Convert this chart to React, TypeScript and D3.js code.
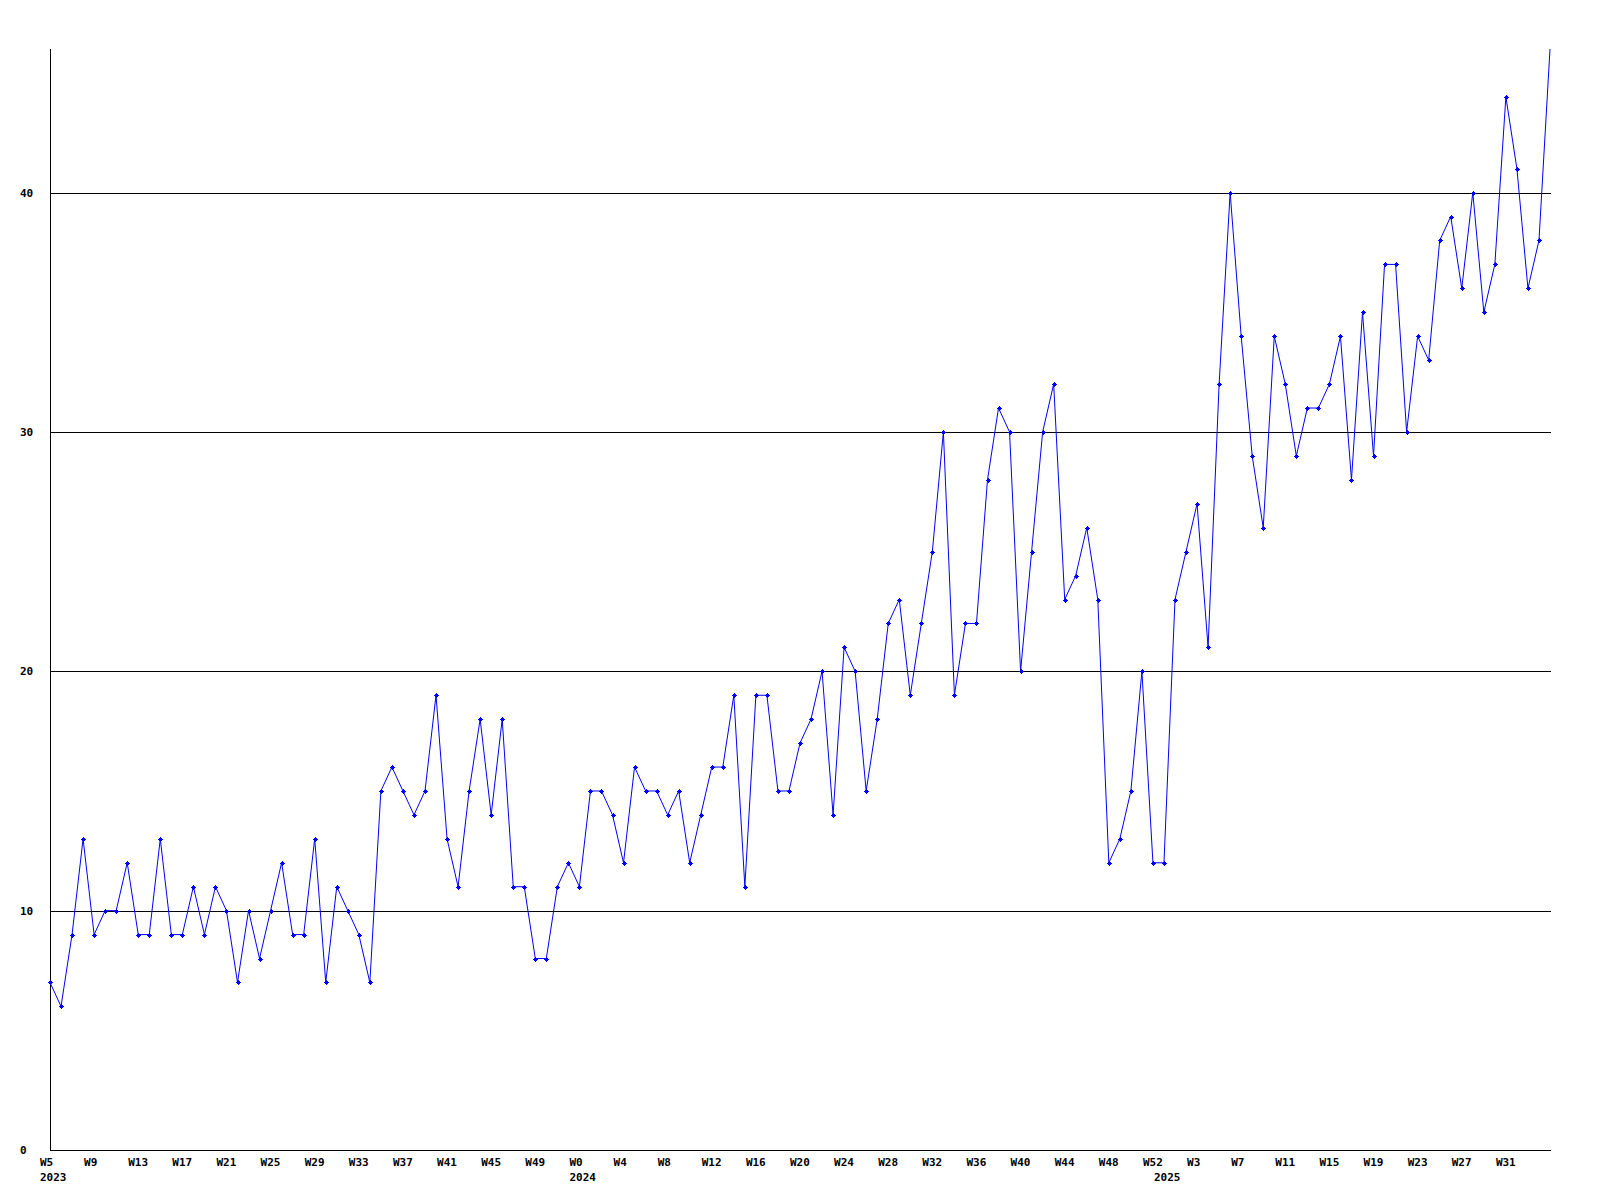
import React from "react";
import * as d3 from "d3";

// Week ranges (year, first week, last week) that make up the categories
const yearRanges: [string, number, number][] = [
  ["2023", 5, 52],
  ["2024", 0, 52],
  ["2025", 0, 35],
];

const values: number[] = [
  7, 6, 9, 13, 9, 10, 10, 12, 9, 9, 13, 9, 9, 11, 9, 11, 10, 7, 10, 8,
  10, 12, 9, 9, 13, 7, 11, 10, 9, 7, 15, 16, 15, 14, 15, 19, 13, 11, 15, 18,
  14, 18, 11, 11, 8, 8, 11, 12, 11, 15, 15, 14, 12, 16, 15, 15, 14, 15, 12, 14,
  16, 16, 19, 11, 19, 19, 15, 15, 17, 18, 20, 14, 21, 20, 15, 18, 22, 23, 19, 22,
  25, 30, 19, 22, 22, 28, 31, 30, 20, 25, 30, 32, 23, 24, 26, 23, 12, 13, 15, 20,
  12, 12, 23, 25, 27, 21, 32, 40, 34, 29, 26, 34, 32, 29, 31, 31, 32, 34, 28, 35,
  29, 37, 37, 30, 34, 33, 38, 39, 36, 40, 35, 37, 44, 41, 36, 38, 46,
];

const yTicks: number[] = [0, 10, 20, 30, 40];
const yMax = 46;
const labelEvery = 4;

type Cat = { year: string; week: number; firstOfYear: boolean };
const categories: Cat[] = [];
yearRanges.forEach(([year, a, b]) => {
  for (let w = a; w <= b; w++) categories.push({ year, week: w, firstOfYear: w === a });
});

const W = 1600;
const H = 1200;
const left = 50;
const right = 1550;
const top = 49;
const bottom = 1150;

export default function App() {
  const x = d3.scaleLinear().domain([0, values.length - 1]).range([left, right]);
  const y = d3.scaleLinear().domain([0, yMax]).range([bottom, top]);
  const line = d3
    .line<number>()
    .x((_, i) => x(i))
    .y((d) => y(d));
  const font = { fontFamily: "'DejaVu Sans Mono', 'Liberation Mono', monospace", fontWeight: 700, fontSize: 11 };
  const crisp = (v: number) => Math.round(v) + 0.5;
  const last = values.length - 1;

  return (
    <svg
      width={W}
      height={H}
      style={{ position: "absolute", left: 0, top: 0, background: "#fff" }}
    >
      <rect x={0} y={0} width={W} height={H} fill="#fff" />
      {/* gridlines */}
      {yTicks.filter((t) => t > 0).map((t) => (
        <line key={t} x1={left} x2={right + 1} y1={crisp(y(t))} y2={crisp(y(t))} stroke="#000" strokeWidth={1} />
      ))}
      {/* axes */}
      <line x1={left + 0.5} x2={left + 0.5} y1={top} y2={crisp(bottom)} stroke="#000" />
      <line x1={left} x2={right + 1} y1={crisp(bottom)} y2={crisp(bottom)} stroke="#000" />
      {/* y labels */}
      {yTicks.map((t) => (
        <text key={t} x={20} y={y(t) + 4} {...font} fill="#000">
          {t}
        </text>
      ))}
      {/* x labels */}
      {categories.map((c, i) =>
        i % labelEvery === 0 && i < last ? (
          <text key={"w" + i} x={x(i) - 10} y={1166} {...font} fill="#000">
            {"W" + c.week}
          </text>
        ) : null
      )}
      {categories.map((c, i) =>
        c.firstOfYear ? (
          <text key={"y" + i} x={x(i) - 10} y={1181} {...font} fill="#000">
            {c.year}
          </text>
        ) : null
      )}
      {/* series */}
      <path d={line(values) || ""} fill="none" stroke="#0000ff" strokeWidth={1} />
      {values.slice(0, last).map((v, i) => {
        const cx = Math.round(x(i));
        const cy = Math.round(y(v));
        return (
          <g key={"m" + i} fill="#0000ff">
            <rect x={cx - 2} y={cy} width={5} height={1} />
            <rect x={cx} y={cy - 2} width={1} height={5} />
            <rect x={cx - 1} y={cy - 1} width={3} height={3} />
          </g>
        );
      })}
    </svg>
  );
}
